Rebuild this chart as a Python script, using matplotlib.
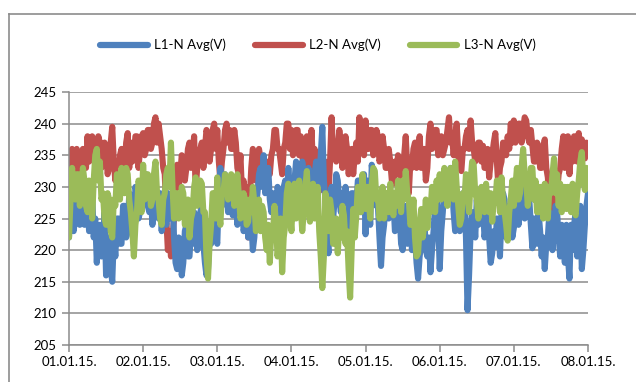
import matplotlib
matplotlib.use("Agg")
import matplotlib.pyplot as plt
from matplotlib.lines import Line2D
import numpy as np
import pandas as pd

plt.rcParams['font.family'] = ['Lato', 'DejaVu Sans']

# readings on the full hour, 01.01.15 00:00 .. 08.01.15 00:00
l1_hour = [
 222,228,225,229,226,224,228,226,222,218,224,221,216,222,215,219,225,221,227,223,228,224,229,226,
 228,232,226,224,229,225,223,227,229,226,222,217,221,218,224,219,221,225,222,227,218,217,221,226,
 221,233,228,230,227,225.5,228,226,228,224,222,225,222,229,233,235,230,228,229,226,229,224,231,233,
 226,231,233,230,232,228,231,229,234,232,239.5,228,219.5,230,228,231,226,224.5,228,226,229,227,231,229,
 222.5,228,233.5,230,227,217.5,224,229,226,228,224,226,220,227,225,220,222,215.5,221,225,219,216.5,223,228,
 217,226,232.5,228,230,223,227,225,229,210.5,223,226,228,225,227,224,222,219.5,220.5,224,226,228,224,226,
 223.5,228.5,226,229,226.5,228,220.3,224,226,219,217,222,225,223,226,219,222,224,215.5,220,226,223,217,224,
 229]
# readings on the half hour
l1_half = [
 227,223,230,224,229,228,223,229,225,223,219,226,222,217,222,225,221,227,222,229,225,230,225,229,
 231,227,229,228,226,229,227,224,225,229,218,222,216,223,219,223,226,220,226,221,216,222,225,222,
 229,227,232,226,229,229,224,229,223,227,226,220,227,232,230,229,233,226,224,230,225,230,226,228,
 229,234,229,234,227,233,226,232,228,235,231,222,227,225,232,228,229,230,223,229,224,231,226,232,
 231,224,231,227,222,222,228,225,229,223,228,221,224,221,227,224,218,219,226,220,222,220,227,225,
 223,230,229,233,226,228,223,229,222,216,226,222,224,229,222,228,218,223,225,219,229,222,227,222,
 227,224,230,225,229,224,225,221,223,222,221,226,220,227,222,224,218,219,224,224,219,227,220,227]

l2_hour = [
 232,236,233,235,232,235,238,236,237,235,237,234,236,233,239.5,231,230,236,233,238.5,237,235,238,236,
 238.5,236,239,237,241,240,236,232,220,219,225,233.5,232,234,233,237,235,229.5,234,237,236,238,236,240,
 239,231,236,240,239,236,237,232,229,226,222,233,235,233,234.5,232,230.5,232,236,239,236,232,237,240,
 239,236,239,238,233,238,235,233,234.5,231,229.5,234,229,241,237,236,237,235,236,233,232,237,241,238,
 240.5,236,239,236,238,235,236,233,234,230.5,232,234,231,238,229,233,237,235,233,236,233,240,237,239,
 236,235,237,241,238,238,235,232.5,236,239,240.5,236,234.5,237,236.5,233,231.5,235,238.5,230,234,236.5,238,240,
 240.5,238,240,239,240.5,237,236.5,234,236.5,233,237.5,231.5,223,226,229,233,238,235,232,234,237,238.5,237.5,234.5,
 236]
l2_half = [
 235,232,236,231,236,233,234,238,233,238,233,237,232,237,234,234,235,232,237,233,234,238,233,238,
 235,239,236,240,237,238,233,225,223,222,231,230,235,231,236,233,238,233,236,233,239,234,239,236,
 234,234,239,237,236,239,233,235,231,230,228,236,231,236,231,234,234,235,239,236,234,236,240,236,
 235,239,235,235,237,233,239,236,230,234,233,231,234,235,234,239,233,238,232,236,235,234,237,235,
 236,239,235,239,234,238,233,236,231,234,235,230,235,233,234,236,233,238,235,231,238,236,239,235,
 238,236,239,237,235,240,233,236,238,236,237,234,237,234,233,236,234,237,234,233,237,235,236,237,
 237,240,237,241,238,239,234,237,233,236,233,228,227,231,232,236,233,238,236,238,234,236,235,237]

l3_hour = [
 222,233,228,232,229,231,226,229,231,236,234,229,224,228,222,227,231,233,229,232,226,219,226,230,
 233.5,229,231.5,228,234,228,224,229,233,237,225,229,226,229,225,222,226,231.5,228,230.5,226,215.5,224,229,
 231.5,224,229,231.5,229,231,229,228.5,226,228,224.5,226,227.5,225,223,226,220,218,222,224.5,221,216.5,224,230.5,
 223,230.5,226.5,227,226,232.5,224.5,230.5,226,223,214,229,223,226,221,219.5,222,225.5,223,212.5,226.5,225.5,228,232,
 226.5,228,230.5,232.5,229,226.5,225,229,230.5,225.5,227,229.5,231,232.5,228,224.5,222,219.5,226.5,224,223.5,226,229.5,231,
 232,229.5,231,230.5,232,234,227,225,228,229,231,233.5,228,226.5,229,230.5,226,224.5,227.5,230,231.5,226,221.5,228,
 227,233,229,236,231,229,233,231,226,228,230.5,225,229,234.5,232,230.5,228,226.5,229,230.5,225.5,231,235.5,229.5,
 232]
l3_half = [
 228,229,232,227,233,227,231,225,235,231,228,225,229,223,228,232,228,230,233,228,223,224,231,226,
 228,232,227,232,229,225,228,232,230,230,229,225,230,224,228,225,230,227,231,226,219,221,229,225,
 226,229,232,228,232,227,232,225,229,224,228,230,223,228,227,222,224,223,227,219,225,222,229,226,
 229,225,231,223,230,227,229,225,230,219,219,225,228,221,225,224,227,221,217,220,222,230,226,228,
 230,225,233,228,225,230,229,226,227,229,231,226,228,229,224,228,219,224,222,228,227,230,226,228,
 228,233,227,233,228,230,224,229,232,226,234,229,225,230,226,227,229,228,231,226,228,224,226,231,
 230,228,233,232,227,233,228,226,230,225,226,230,232,229,227,226,230,230,226,226,229,234,231,233]

series_names = ['L1-N Avg(V)', 'L2-N Avg(V)', 'L3-N Avg(V)']
day_labels = ['01.01.15.', '02.01.15.', '03.01.15.', '04.01.15.',
              '05.01.15.', '06.01.15.', '07.01.15.', '08.01.15.']
y_ticks = [205, 210, 215, 220, 225, 230, 235, 240, 245]


def merge(hour, half):
    out = np.empty(len(hour) + len(half))
    out[0::2] = hour
    out[1::2] = half
    return out


l1 = merge(l1_hour, l1_half)
l2 = merge(l2_hour, l2_half)
l3 = merge(l3_hour, l3_half)
t = pd.date_range('2015-01-01', periods=len(l1), freq='30min')
days = pd.date_range('2015-01-01', periods=8, freq='D')

fig = plt.figure(figsize=(6.36, 3.82), dpi=100)
frame_c = '#8c8c8c'
fig.lines.append(Line2D([9/636, 1.0], [1-14/382, 1-14/382], transform=fig.transFigure,
                        color=frame_c, lw=1.2))
fig.lines.append(Line2D([9/636, 9/636], [0.0, 1-14/382], transform=fig.transFigure,
                        color=frame_c, lw=1.2))
ax = fig.add_axes([69/636, 1-345/382, (588-69)/636, (345-92)/382])

colors = {'L1': '#4F81BD', 'L2': '#C0504D', 'L3': '#9BBB59'}
lw = 4.4
kw = dict(lw=lw, solid_joinstyle='round', solid_capstyle='round')
h2, = ax.plot(t, l2, color=colors['L2'], zorder=2, **kw)
h1, = ax.plot(t, l1, color=colors['L1'], zorder=3, **kw)
h3, = ax.plot(t, l3, color=colors['L3'], zorder=4, **kw)

ax.set_ylim(205, 245)
ax.set_xlim(days[0], days[-1])
ax.set_yticks(y_ticks)
ax.set_yticklabels([str(v) for v in y_ticks])
ax.set_xticks(days)
ax.set_xticklabels(day_labels)
ax.grid(axis='y', color=frame_c, linewidth=1.1)
ax.set_axisbelow(True)
for s in ['top', 'right']:
    ax.spines[s].set_visible(False)
for s in ['left', 'bottom']:
    ax.spines[s].set_color(frame_c)
    ax.spines[s].set_linewidth(1.1)
ax.tick_params(axis='both', colors=frame_c, labelcolor='black', labelsize=9.5,
               length=5, width=1.1, direction='out')
ax.tick_params(axis='y', pad=4)
ax.tick_params(axis='x', pad=3)

leg = fig.legend([h1, h2, h3], series_names, loc='center', bbox_to_anchor=(0.5, 1-45/382),
                 ncol=3, frameon=False, fontsize=9.5, handlelength=3.6,
                 columnspacing=2.2, handletextpad=0.5)
for l in leg.get_lines():
    l.set_linewidth(4.5)
    l.set_solid_capstyle('round')

fig.savefig('out.png', dpi=100)
